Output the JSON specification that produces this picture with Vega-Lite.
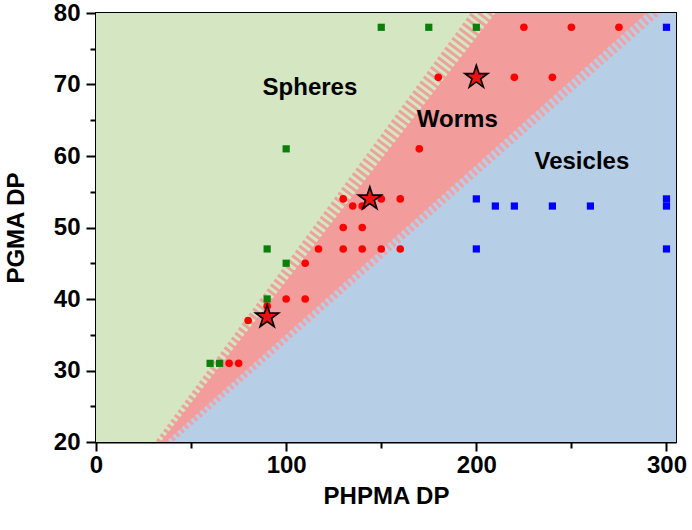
{
  "$schema": "https://vega.github.io/schema/vega-lite/v6.json",
  "width": 580,
  "height": 429,
  "autosize": {"type": "none"},
  "padding": {"left": 96, "top": 13, "right": 16, "bottom": 88},
  "background": "white",
  "config": {
    "font": "Liberation Sans",
    "view": {"fill": "#b6cfe7", "stroke": "#000000", "strokeWidth": 2}
  },
  "datasets": {
    "bounds": [
      {"y": 20, "L1": 31, "R1": 34, "L2": 36.5, "R2": 40.5, "xmax": 305},
      {"y": 80, "L1": 197, "R1": 210, "L2": 289.5, "R2": 297.5, "xmax": 305}
    ],
    "centers": [
      {"y": 12, "C1": 9.7, "C2": 4.5},
      {"y": 88, "C1": 226.3, "C2": 327.5}
    ],
    "pts": [
      {"x": 150, "y": 78, "m": "sphere"},
      {"x": 175, "y": 78, "m": "sphere"},
      {"x": 200, "y": 78, "m": "sphere"},
      {"x": 100, "y": 61, "m": "sphere"},
      {"x": 90, "y": 47, "m": "sphere"},
      {"x": 100, "y": 45, "m": "sphere"},
      {"x": 90, "y": 40, "m": "sphere"},
      {"x": 60, "y": 31, "m": "sphere"},
      {"x": 65, "y": 31, "m": "sphere"},
      {"x": 70, "y": 31, "m": "worm"},
      {"x": 75, "y": 31, "m": "worm"},
      {"x": 80, "y": 37, "m": "worm"},
      {"x": 90, "y": 39, "m": "worm"},
      {"x": 100, "y": 40, "m": "worm"},
      {"x": 110, "y": 40, "m": "worm"},
      {"x": 110, "y": 45, "m": "worm"},
      {"x": 117, "y": 47, "m": "worm"},
      {"x": 130, "y": 47, "m": "worm"},
      {"x": 140, "y": 47, "m": "worm"},
      {"x": 150, "y": 47, "m": "worm"},
      {"x": 160, "y": 47, "m": "worm"},
      {"x": 130, "y": 50, "m": "worm"},
      {"x": 140, "y": 50, "m": "worm"},
      {"x": 135, "y": 53, "m": "worm"},
      {"x": 140, "y": 53, "m": "worm"},
      {"x": 130, "y": 54, "m": "worm"},
      {"x": 150, "y": 54, "m": "worm"},
      {"x": 160, "y": 54, "m": "worm"},
      {"x": 170, "y": 61, "m": "worm"},
      {"x": 180, "y": 71, "m": "worm"},
      {"x": 220, "y": 71, "m": "worm"},
      {"x": 240, "y": 71, "m": "worm"},
      {"x": 225, "y": 78, "m": "worm"},
      {"x": 250, "y": 78, "m": "worm"},
      {"x": 275, "y": 78, "m": "worm"},
      {"x": 300, "y": 78, "m": "vesicle"},
      {"x": 200, "y": 54, "m": "vesicle"},
      {"x": 210, "y": 53, "m": "vesicle"},
      {"x": 220, "y": 53, "m": "vesicle"},
      {"x": 240, "y": 53, "m": "vesicle"},
      {"x": 260, "y": 53, "m": "vesicle"},
      {"x": 300, "y": 54, "m": "vesicle"},
      {"x": 300, "y": 53, "m": "vesicle"},
      {"x": 200, "y": 47, "m": "vesicle"},
      {"x": 300, "y": 47, "m": "vesicle"},
      {"x": 90, "y": 37.5, "m": "star"},
      {"x": 144, "y": 54, "m": "star"},
      {"x": 200, "y": 71, "m": "star"}
    ],
    "labels": [
      {"label": "Spheres", "x": 112.5, "y": 69.5},
      {"label": "Worms", "x": 190, "y": 65},
      {"label": "Vesicles", "x": 255.5, "y": 59.2}
    ]
  },
  "resolve": {"axis": {"x": "independent", "y": "independent"}},
  "layer": [
    {
      "layer": [
        {
          "data": {"name": "centers"},
          "mark": {"type": "line", "color": "#d5e6c3", "strokeWidth": 21, "strokeCap": "butt", "clip": true},
          "encoding": {
            "x": {"field": "C1", "type": "quantitative", "scale": {"domain": [0, 305], "nice": false, "zero": false},
              "title": "PHPMA DP",
              "axis": {
                "orient": "bottom",
                "values": [0, 100, 200, 300],
                "domain": true, "domainColor": "#000000", "domainWidth": 2,
                "ticks": true, "tickColor": "#000000", "tickWidth": 2, "tickSize": 9,
                "grid": false,
                "labelFont": "Liberation Sans", "labelFontSize": 24, "labelFontWeight": "bold", "labelColor": "#000000",
                "labelPadding": 2, "labelFlush": false, "labelOverlap": false,
                "titleFont": "Liberation Sans", "titleFontSize": 24, "titleFontWeight": "bold", "titleColor": "#000000",
                "titlePadding": 7
              }
            },
            "y": {"field": "y", "type": "quantitative", "scale": {"domain": [20, 80], "nice": false, "zero": false},
              "title": "PGMA DP",
              "axis": {
                "orient": "left",
                "values": [20, 30, 40, 50, 60, 70, 80],
                "domain": true, "domainColor": "#000000", "domainWidth": 2,
                "ticks": true, "tickColor": "#000000", "tickWidth": 2, "tickSize": 10,
                "grid": false,
                "labelFont": "Liberation Sans", "labelFontSize": 24, "labelFontWeight": "bold", "labelColor": "#000000",
                "labelPadding": 6, "labelFlush": false, "labelOverlap": false,
                "titleFont": "Liberation Sans", "titleFontSize": 24, "titleFontWeight": "bold", "titleColor": "#000000",
                "titlePadding": 25
              }
            }
          }
        },
        {
          "data": {"name": "centers"},
          "mark": {"type": "line", "color": "#eca39c", "strokeWidth": 21, "strokeCap": "butt", "strokeDash": [3, 3], "clip": true},
          "encoding": {
            "x": {"field": "C1", "type": "quantitative", "scale": {"domain": [0, 305], "nice": false, "zero": false}},
            "y": {"field": "y", "type": "quantitative", "scale": {"domain": [20, 80], "nice": false, "zero": false}}
          }
        },
        {
          "data": {"name": "bounds"},
          "mark": {"type": "area", "orient": "horizontal", "color": "#d5e6c3", "clip": true},
          "encoding": {
            "y": {"field": "y", "type": "quantitative", "scale": {"domain": [20, 80], "nice": false, "zero": false}},
            "x": {"field": "L1", "type": "quantitative", "scale": {"domain": [0, 305], "nice": false, "zero": false}},
            "x2": {"datum": 0}
          }
        },
        {
          "data": {"name": "centers"},
          "mark": {"type": "line", "color": "#b6cfe7", "strokeWidth": 11, "strokeCap": "butt", "clip": true},
          "encoding": {
            "x": {"field": "C2", "type": "quantitative", "scale": {"domain": [0, 305], "nice": false, "zero": false}},
            "y": {"field": "y", "type": "quantitative", "scale": {"domain": [20, 80], "nice": false, "zero": false}}
          }
        },
        {
          "data": {"name": "centers"},
          "mark": {"type": "line", "color": "#f0a3a6", "strokeWidth": 11, "strokeCap": "butt", "strokeDash": [3, 3], "clip": true},
          "encoding": {
            "x": {"field": "C2", "type": "quantitative", "scale": {"domain": [0, 305], "nice": false, "zero": false}},
            "y": {"field": "y", "type": "quantitative", "scale": {"domain": [20, 80], "nice": false, "zero": false}}
          }
        },
        {
          "data": {"name": "bounds"},
          "mark": {"type": "area", "orient": "horizontal", "color": "#b6cfe7", "clip": true},
          "encoding": {
            "y": {"field": "y", "type": "quantitative", "scale": {"domain": [20, 80], "nice": false, "zero": false}},
            "x": {"field": "R2", "type": "quantitative", "scale": {"domain": [0, 305], "nice": false, "zero": false}},
            "x2": {"field": "xmax"}
          }
        },
        {
          "data": {"name": "bounds"},
          "mark": {"type": "area", "orient": "horizontal", "color": "#f29c9b", "clip": true},
          "encoding": {
            "y": {"field": "y", "type": "quantitative", "scale": {"domain": [20, 80], "nice": false, "zero": false}},
            "x": {"field": "R1", "type": "quantitative", "scale": {"domain": [0, 305], "nice": false, "zero": false}},
            "x2": {"field": "L2"}
          }
        },
        {
          "data": {"name": "pts"},
          "transform": [{"filter": "datum.m == 'sphere'"}],
          "mark": {"type": "point", "shape": "square", "filled": true, "color": "#0b7f0b", "opacity": 1, "size": 52},
          "encoding": {
            "x": {"field": "x", "type": "quantitative", "scale": {"domain": [0, 305], "nice": false, "zero": false}},
            "y": {"field": "y", "type": "quantitative", "scale": {"domain": [20, 80], "nice": false, "zero": false}}
          }
        },
        {
          "data": {"name": "pts"},
          "transform": [{"filter": "datum.m == 'worm'"}],
          "mark": {"type": "point", "shape": "circle", "filled": true, "color": "#ff0000", "opacity": 1, "size": 58},
          "encoding": {
            "x": {"field": "x", "type": "quantitative", "scale": {"domain": [0, 305], "nice": false, "zero": false}},
            "y": {"field": "y", "type": "quantitative", "scale": {"domain": [20, 80], "nice": false, "zero": false}}
          }
        },
        {
          "data": {"name": "pts"},
          "transform": [{"filter": "datum.m == 'vesicle'"}],
          "mark": {"type": "point", "shape": "square", "filled": true, "color": "#0000ff", "opacity": 1, "size": 52},
          "encoding": {
            "x": {"field": "x", "type": "quantitative", "scale": {"domain": [0, 305], "nice": false, "zero": false}},
            "y": {"field": "y", "type": "quantitative", "scale": {"domain": [20, 80], "nice": false, "zero": false}}
          }
        },
        {
          "data": {"name": "pts"},
          "transform": [{"filter": "datum.m == 'star'"}],
          "mark": {"type": "point", "shape": "M0,-1L0.2245,-0.309L0.951,-0.309L0.363,0.118L0.588,0.809L0,0.382L-0.588,0.809L-0.363,0.118L-0.951,-0.309L-0.2245,-0.309Z", "filled": true, "fill": "#ee1111", "stroke": "#000000", "strokeWidth": 1.6, "opacity": 1, "size": 585},
          "encoding": {
            "x": {"field": "x", "type": "quantitative", "scale": {"domain": [0, 305], "nice": false, "zero": false}},
            "y": {"field": "y", "type": "quantitative", "scale": {"domain": [20, 80], "nice": false, "zero": false}}
          }
        },
        {
          "data": {"name": "labels"},
          "mark": {"type": "text", "font": "Liberation Sans", "fontSize": 24, "fontWeight": "bold", "color": "#000000", "align": "center", "baseline": "middle"},
          "encoding": {
            "x": {"field": "x", "type": "quantitative", "scale": {"domain": [0, 305], "nice": false, "zero": false}},
            "y": {"field": "y", "type": "quantitative", "scale": {"domain": [20, 80], "nice": false, "zero": false}},
            "text": {"field": "label"}
          }
        }
      ]
    },
    {
      "data": {"name": "labels"},
      "mark": {"type": "point", "opacity": 0},
      "encoding": {
        "x": {"field": "x", "type": "quantitative", "scale": {"domain": [0, 305], "nice": false, "zero": false},
          "axis": {"orient": "bottom", "values": [50, 150, 250], "labels": false, "title": null, "domain": false, "grid": false,
            "ticks": true, "tickColor": "#000000", "tickWidth": 2, "tickSize": 6}},
        "y": {"field": "y", "type": "quantitative", "scale": {"domain": [20, 80], "nice": false, "zero": false},
          "axis": {"orient": "left", "values": [25, 35, 45, 55, 65, 75], "labels": false, "title": null, "domain": false, "grid": false,
            "ticks": true, "tickColor": "#000000", "tickWidth": 2, "tickSize": 6}}
      }
    }
  ]
}
